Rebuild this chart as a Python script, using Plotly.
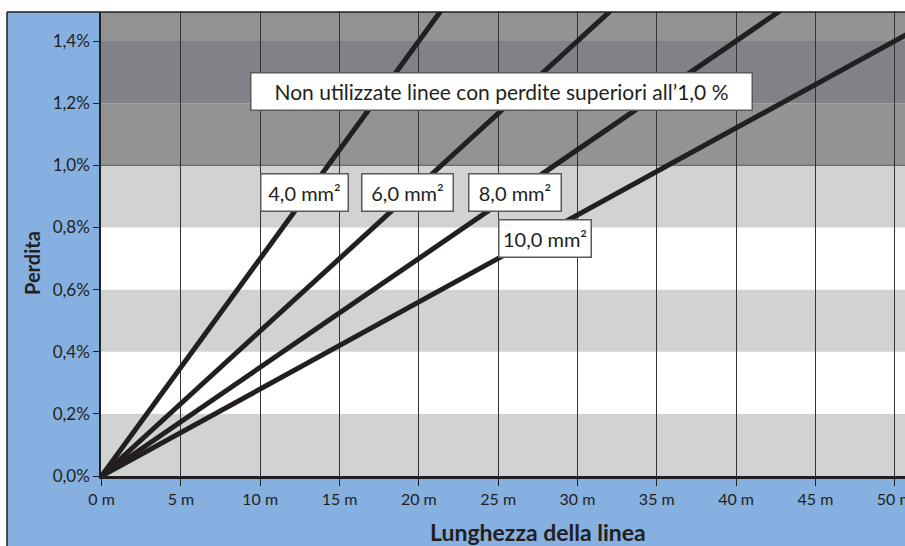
import plotly.graph_objects as go

# ---- data ----
lengths_m = [0, 60]
loss_4mm = [0, 4.2]
loss_6mm = [0, 2.8]
loss_8mm = [0, 2.1]
loss_10mm = [0, 1.68]

x_tick_vals = [0, 5, 10, 15, 20, 25, 30, 35, 40, 45, 50]
x_tick_text = ["0 m", "5 m", "10 m", "15 m", "20 m", "25 m", "30 m", "35 m", "40 m", "45 m", "50 m"]
y_tick_vals = [0, 0.2, 0.4, 0.6, 0.8, 1.0, 1.2, 1.4]
y_tick_text = ["0,0%", "0,2%", "0,4%", "0,6%", "0,8%", "1,0%", "1,2%", "1,4%"]

band_edges = [0, 0.2, 0.4, 0.6, 0.8, 1.0, 1.2, 1.4, 1.6]
band_colors = ["#d1d2d4", "#ffffff", "#d1d2d4", "#ffffff", "#d1d2d4",
               "#939394", "#818287", "#939394"]

series_labels = ["4,0 mm²", "6,0 mm²", "8,0 mm²", "10,0 mm²"]
label_x = [12.82, 19.31, 26.03, 27.98]
label_y = [0.9125, 0.9125, 0.911, 0.766]
label_w = [86, 90, 91, 91]

warning_text = "Non utilizzate linee con perdite superiori all’1,0 %"

# ---- styling ----
INK = "#231f20"
BLUE = "#86b0e0"
FONT = "Lato"

fig = go.Figure()
for ys, name in zip([loss_4mm, loss_6mm, loss_8mm, loss_10mm], series_labels):
    fig.add_trace(go.Scatter(x=lengths_m, y=ys, mode="lines", name=name,
                             line=dict(color=INK, width=5), showlegend=False,
                             hoverinfo="skip"))

shapes = []
for i, c in enumerate(band_colors):
    shapes.append(dict(type="rect", xref="paper", yref="y", x0=0, x1=1,
                       y0=band_edges[i], y1=band_edges[i + 1],
                       fillcolor=c, line=dict(width=0), layer="below"))
shapes.append(dict(type="line", xref="paper", yref="y", x0=0, x1=1, y0=1.0, y1=1.0,
                   line=dict(color="#555555", width=1), layer="below"))

# white outer strips and frame (paper coords; plot area is 101..905 x 12..476 px)
pw, ph = 804.0, 464.0
left_frame = (7 - 101) / pw
shapes.append(dict(type="rect", xref="paper", yref="paper", x0=-0.2, x1=1.1,
                   y0=1.0, y1=1.2, fillcolor="white", line=dict(width=0), layer="below"))
shapes.append(dict(type="rect", xref="paper", yref="paper", x0=-0.2, x1=left_frame,
                   y0=-0.3, y1=1.2, fillcolor="white", line=dict(width=0), layer="below"))
shapes.append(dict(type="line", xref="paper", yref="paper", x0=left_frame, x1=left_frame,
                   y0=-0.3, y1=1.0, line=dict(color=INK, width=1.5)))
shapes.append(dict(type="line", xref="paper", yref="paper", x0=left_frame, x1=1.05,
                   y0=1.0, y1=1.0, line=dict(color=INK, width=1.5)))

annotations = [
    dict(x=25.2, y=1.236, xref="x", yref="y", text=warning_text, showarrow=False,
         font=dict(family=FONT, size=21, color=INK), bgcolor="white",
         bordercolor="#5a5a5a", borderwidth=1.5, borderpad=0, width=500, height=36),
]
for t, lx, ly, w in zip(series_labels, label_x, label_y, label_w):
    annotations.append(dict(x=lx, y=ly, xref="x", yref="y", text=t, showarrow=False,
                            font=dict(family=FONT, size=20, color=INK), bgcolor="white",
                            bordercolor="#5a5a5a", borderwidth=1.5, borderpad=0,
                            width=w, height=36))
annotations.append(dict(x=(538 - 101) / pw, y=(476 - 532) / ph, xref="paper", yref="paper",
                        xanchor="center", yanchor="middle",
                        text="<b>Lunghezza della linea</b>", showarrow=False,
                        font=dict(family=FONT, size=23, color=INK)))
annotations.append(dict(x=(32 - 101) / pw, y=(476 - 263) / ph, xref="paper", yref="paper",
                        xanchor="center", yanchor="middle",
                        text="<b>Perdita</b>", showarrow=False, textangle=-90,
                        font=dict(family=FONT, size=20, color=INK)))

fig.update_layout(
    width=905, height=546,
    margin=dict(l=101, r=0, t=12, b=70, autoexpand=False),
    paper_bgcolor=BLUE, plot_bgcolor="white",
    shapes=shapes, annotations=annotations,
    font=dict(family=FONT, color=INK),
    xaxis=dict(range=[-0.04, 50.65], tickvals=x_tick_vals, ticktext=x_tick_text,
               showgrid=True, gridcolor="#333333", gridwidth=1, zeroline=False,
               showline=True, linecolor=INK, linewidth=2.5, automargin=False,
               ticklabeloverflow="allow",
               ticks="outside", ticklen=7, tickcolor=INK, tickwidth=1,
               tickfont=dict(family=FONT, size=16, color=INK), fixedrange=True),
    yaxis=dict(range=[0, 1.4934], tickvals=y_tick_vals, ticktext=y_tick_text,
               showgrid=False, zeroline=False, showline=True, linecolor=INK, linewidth=1.5,
               ticks="outside", ticklen=6, tickcolor=INK, tickwidth=1, automargin=False,
               tickfont=dict(family=FONT, size=17, color=INK), fixedrange=True),
)

fig.write_html("out.html", config={"displayModeBar": False},
               post_script="document.body.style.margin='0px';document.body.style.overflow='hidden';")
